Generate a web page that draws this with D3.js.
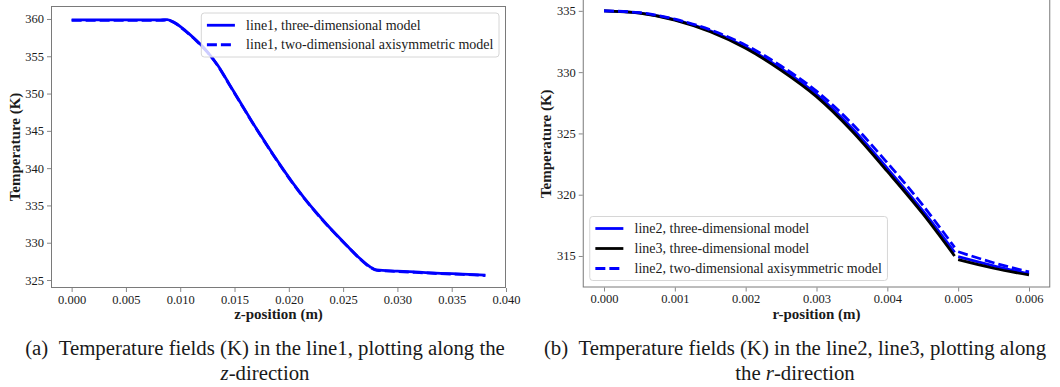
<!DOCTYPE html>
<html>
<head>
<meta charset="utf-8">
<script src="https://cdn.jsdelivr.net/npm/d3@7"></script>
<style>
  html, body { margin: 0; padding: 0; background: #fff; }
  svg { display: block; font-family: "Liberation Serif", "Times New Roman", serif; }
  svg text { font-family: "Liberation Serif", "Times New Roman", serif; }
</style>
</head>
<body>
<svg id="fig" width="1060" height="387"></svg>
<script>
// ---- line1: temperature along z ----
const zPos = [0, 0.002, 0.004, 0.006, 0.008, 0.0088, 0.0095, 0.0105, 0.0115, 0.0125, 0.0135,
  0.0145, 0.0155, 0.0165, 0.0175, 0.0185, 0.0195, 0.0205, 0.0215, 0.0225, 0.0235, 0.0245,
  0.0255, 0.0265, 0.0275, 0.0281, 0.030, 0.032, 0.034, 0.036, 0.0381];
const line1_3D = [359.88, 359.88, 359.87, 359.87, 359.87, 359.92, 359.5, 358.4, 357.1, 355.6, 353.7,
  351.3, 348.9, 346.5, 344.2, 341.95, 339.8, 337.75, 335.85, 334.1, 332.45, 330.9,
  329.4, 327.95, 326.75, 326.35, 326.2, 326.05, 325.9, 325.8, 325.65];
const line1_2D = [359.8, 359.8, 359.8, 359.8, 359.8, 359.85, 359.45, 358.35, 357.05, 355.55, 353.65,
  351.25, 348.85, 346.45, 344.15, 341.9, 339.75, 337.7, 335.8, 334.05, 332.4, 330.85,
  329.35, 327.9, 326.7, 326.3, 326.15, 326.0, 325.85, 325.75, 325.6];
const zTicks = [0, 0.005, 0.010, 0.015, 0.020, 0.025, 0.030, 0.035, 0.040];
const tTicksA = [325, 330, 335, 340, 345, 350, 355, 360];

// ---- line2 / line3: temperature along r (null marks the break at the interface) ----
const rPos = [0, 0.0005, 0.001, 0.0015, 0.002, 0.0025, 0.003, 0.0035, 0.004, 0.0045, 0.00495,
  null, 0.005, 0.0055, 0.006];
const line2_3D = [335.0, 334.83, 334.28, 333.37, 332.05, 330.3, 328.2, 325.45, 322.15, 318.7, 315.3,
  null, 314.95, 314.2, 313.55];
const line3_3D = [335.0, 334.82, 334.25, 333.3, 331.95, 330.15, 328.0, 325.2, 321.9, 318.45, 315.0,
  null, 314.7, 314.0, 313.45];
const line2_2D = [335.0, 334.85, 334.32, 333.45, 332.2, 330.5, 328.45, 325.8, 322.6, 319.15, 315.7,
  null, 315.35, 314.45, 313.7];
const rTicks = [0, 0.001, 0.002, 0.003, 0.004, 0.005, 0.006];
const tTicksB = [315, 320, 325, 330, 335];

const svg = d3.select("#fig");
const TEXT = "#1a1a1a";
const FRAME = "#7a7a7a";
const SERIF = "Liberation Serif";

function panel(cfg) {
  const g = svg.append("g").attr("font-family", SERIF);
  const x = d3.scaleLinear().domain(cfg.xDomain).range([cfg.left, cfg.right]);
  const y = d3.scaleLinear().domain(cfg.yDomain).range([cfg.bottom, cfg.top]);

  const clipId = cfg.id + "-clip";
  svg.append("clipPath").attr("id", clipId).append("rect")
    .attr("x", cfg.left).attr("y", cfg.top)
    .attr("width", cfg.right - cfg.left).attr("height", cfg.bottom - cfg.top);

  // axes
  const xAxis = d3.axisBottom(x).tickValues(cfg.xTicks).tickFormat(d3.format(cfg.xFmt))
    .tickSizeInner(4).tickSizeOuter(0).tickPadding(3);
  const yAxis = d3.axisLeft(y).tickValues(cfg.yTicks).tickFormat(d3.format("d"))
    .tickSizeInner(4).tickSizeOuter(0).tickPadding(3);

  const gx = g.append("g").attr("transform", `translate(0,${cfg.bottom})`).call(xAxis);
  const gy = g.append("g").attr("transform", `translate(${cfg.left},0)`).call(yAxis);
  [gx, gy].forEach(a => {
    a.attr("font-family", SERIF).attr("font-size", 12.5);
    a.select(".domain").remove();
    a.selectAll(".tick line").attr("stroke", FRAME).attr("stroke-width", 0.9);
    a.selectAll(".tick text").attr("fill", TEXT).attr("font-family", SERIF);
  });

  // frame
  g.append("rect").attr("x", cfg.left + 0.5).attr("y", cfg.top + 0.5)
    .attr("width", cfg.right - cfg.left - 1).attr("height", cfg.bottom - cfg.top - 1)
    .attr("fill", "none").attr("stroke", FRAME).attr("stroke-width", 1);

  // series
  const lines = g.append("g").attr("clip-path", `url(#${clipId})`);
  cfg.series.forEach(s => {
    const pts = cfg.xs.map((v, i) => [v, s.values[i]]);
    const line = d3.line()
      .defined(d => d[0] != null && d[1] != null)
      .x(d => x(d[0])).y(d => y(d[1]))
      .curve(d3.curveMonotoneX);
    lines.append("path").attr("d", line(pts))
      .attr("fill", "none").attr("stroke", s.color).attr("stroke-width", 2.8)
      .attr("stroke-dasharray", s.dash ? "10,4" : null)
      .attr("stroke-linejoin", "round");
  });

  // axis titles
  g.append("text").attr("x", (cfg.left + cfg.right) / 2).attr("y", cfg.xTitleY)
    .attr("text-anchor", "middle").attr("fill", TEXT).attr("font-family", SERIF)
    .attr("font-size", 15).attr("font-weight", "bold").text(cfg.xTitle);
  const yc = (Math.max(cfg.top, 0) + cfg.bottom) / 2;
  g.append("text").attr("transform", `translate(${cfg.yTitleX},${yc}) rotate(-90)`)
    .attr("text-anchor", "middle").attr("fill", TEXT).attr("font-family", SERIF)
    .attr("font-size", 15).attr("font-weight", "bold").text(cfg.yTitle);

  // legend
  const fs = 14;
  const lg = g.append("g");
  const box = lg.append("rect");
  const items = lg.append("g");
  let maxW = 0;
  cfg.series.forEach((s, i) => {
    const t = items.append("text").attr("x", 0).attr("y", i * cfg.legendPitch)
      .attr("dy", "0.33em").attr("fill", TEXT).attr("font-family", SERIF)
      .attr("font-size", fs).text(s.name);
    maxW = Math.max(maxW, t.node().getComputedTextLength());
  });
  const pad = 0.4 * fs, handle = 2 * fs, hgap = 0.8 * fs;
  const boxW = pad + handle + hgap + maxW + pad;
  const boxH = cfg.legendH;
  const bx = cfg.legendAt === "upper right" ? cfg.right - 7 - boxW : cfg.left + 7;
  const by = cfg.legendAt === "upper right" ? cfg.top + 7 : cfg.bottom - 7 - boxH;
  box.attr("x", bx).attr("y", by).attr("width", boxW).attr("height", boxH)
    .attr("rx", 3).attr("fill", "#fff").attr("fill-opacity", 0.8)
    .attr("stroke", "#d6d6d6").attr("stroke-width", 1);
  const firstRow = by + (boxH - (cfg.series.length - 1) * cfg.legendPitch) / 2;
  items.attr("transform", `translate(${bx + pad + handle + hgap},${firstRow})`);
  cfg.series.forEach((s, i) => {
    lg.append("line")
      .attr("x1", bx + pad).attr("x2", bx + pad + handle)
      .attr("y1", firstRow + i * cfg.legendPitch).attr("y2", firstRow + i * cfg.legendPitch)
      .attr("stroke", s.color).attr("stroke-width", 2.8)
      .attr("stroke-dasharray", s.dash ? "10,4" : null);
  });

  // caption
  const cap = svg.append("text").attr("x", cfg.capX).attr("y", 355)
    .attr("text-anchor", "middle").attr("fill", TEXT).attr("font-family", SERIF)
    .attr("font-size", 20.8);
  cap.text(cfg.caption1);
  const cap2 = svg.append("text").attr("x", cfg.capX).attr("y", 380)
    .attr("text-anchor", "middle").attr("fill", TEXT).attr("font-family", SERIF)
    .attr("font-size", 20.8);
  cfg.caption2.forEach(p => {
    cap2.append("tspan").attr("font-style", p.italic ? "italic" : null).text(p.t);
  });
}

panel({
  id: "pa",
  left: 51, right: 506, top: 6, bottom: 288,
  xDomain: [-0.0019, 0.0400], yDomain: [323.93, 361.74],
  xTicks: zTicks, yTicks: tTicksA, xFmt: ".3f",
  xs: zPos,
  series: [
    { name: "line1, three-dimensional model", values: line1_3D, color: "#0000ff", dash: false },
    { name: "line1, two-dimensional axisymmetric model", values: line1_2D, color: "#0000ff", dash: true }
  ],
  xTitle: "z-position (m)", yTitle: "Temperature (K)", xTitleY: 319, yTitleX: 20,
  legendAt: "upper right", legendH: 44, legendPitch: 19.5,
  capX: 265,
  caption1: "(a)\u2002Temperature fields (K) in the line1, plotting along the",
  caption2: [{ t: "z", italic: true }, { t: "-direction" }]
});

panel({
  id: "pb",
  left: 582.75, right: 1050.25, top: -3, bottom: 287.5,
  xDomain: [-0.0003, 0.0063], yDomain: [312.43, 336.13],
  xTicks: rTicks, yTicks: tTicksB, xFmt: ".3f",
  xs: rPos,
  series: [
    { name: "line2, three-dimensional model", values: line2_3D, color: "#0000ff", dash: false },
    { name: "line3, three-dimensional model", values: line3_3D, color: "#000000", dash: false },
    { name: "line2, two-dimensional axisymmetric model", values: line2_2D, color: "#0000ff", dash: true }
  ],
  xTitle: "r-position (m)", yTitle: "Temperature (K)", xTitleY: 319, yTitleX: 551,
  legendAt: "lower left", legendH: 64, legendPitch: 20,
  capX: 795,
  caption1: "(b)\u2002Temperature fields (K) in the line2, line3, plotting along",
  caption2: [{ t: "the " }, { t: "r", italic: true }, { t: "-direction" }]
});
</script>
</body>
</html>
